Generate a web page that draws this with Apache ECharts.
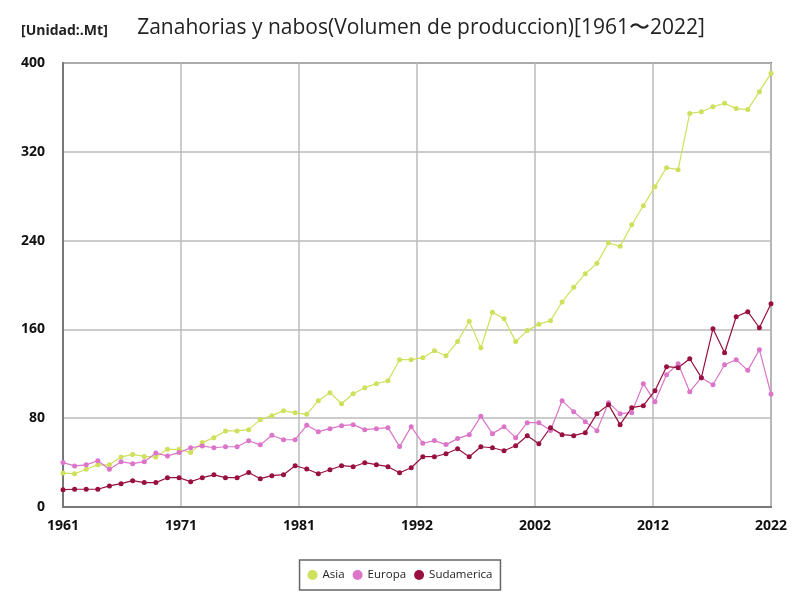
<!DOCTYPE html>
<html>
<head>
<meta charset="utf-8">
<script src="https://cdn.jsdelivr.net/npm/echarts@6/dist/echarts.min.js"></script>
<style>
  html, body { margin: 0; padding: 0; background: #fff; }
  #chart { width: 800px; height: 600px; }
</style>
</head>
<body>
<div id="chart"></div>
<script>
// 数据
const startYear = 1961;
const endYear = 2022;
const years = [];
for (let y = startYear; y <= endYear; y++) years.push(y);

const asia = [
  30.6, 30, 34, 38, 38, 45, 47.4, 45.6, 45, 52,
  52, 49, 58, 62.5, 68.5, 68.5, 69.7, 78.7, 82.3, 86.8,
  84.8, 83.5, 95.8, 103, 93, 102, 107.5, 111, 113.8, 132.7,
  132.7, 134.5, 140.8, 136.3, 149, 167.3, 143.5, 175.4, 169.7, 149,
  158.9, 164.6, 167.9, 184.7, 197.9, 210.2, 219.5, 238.1, 234.8, 254.3,
  271.4, 288.6, 305.7, 303.9, 354.6, 356.1, 360.6, 363.7, 358.9, 358,
  374.2, 390.7
];
const europa = [
  40, 37, 38, 41.7, 34, 40.8, 39, 40.8, 48.6, 46,
  49, 53.4, 55, 53.4, 54.3, 54.3, 59.7, 56, 64.6, 60.6,
  60.6, 73.6, 67.9, 70.6, 73.3, 74.2, 69.7, 70.6, 71.5, 54.4,
  72.4, 57.4, 59.8, 56.2, 61.6, 65.2, 81.7, 66.1, 72.4, 62.5,
  76, 76, 69, 95.8, 85.9, 76.9, 68.8, 94, 84.1, 85,
  111.1, 94.9, 119.2, 129.1, 103.9, 116.5, 110.2, 128.2, 132.7, 123.1,
  141.7, 101.8
];
const sudamerica = [
  15.6, 16, 16, 16, 19, 21, 23.7, 22, 22, 26.4,
  26.4, 22.8, 26.4, 29, 26.4, 26.4, 31, 25.5, 28.2, 29.1,
  37.2, 34.2, 30, 33.6, 37.2, 36.3, 39.9, 38.1, 36.3, 30.9,
  35.4, 45.3, 45.3, 48, 52.5, 45.3, 54.3, 53.4, 50.7, 55.2,
  64.2, 57, 71.5, 65.2, 64.3, 67, 84.1, 92.2, 74.2, 89.5,
  91.3, 104.8, 126.4, 125.5, 133.6, 116.5, 160.6, 139, 171.4, 176,
  161.5, 183.2
];
const seriesNames = ['Asia', 'Europa', 'Sudamerica'];
const colors = ['#cfe05c', '#dc74c9', '#981040'];

(function () {
  let myChart = echarts.init(document.getElementById('chart'));

  // x 轴用年份偏移量，刻度均分为 6 段
  const toPairs = arr => arr.map((v, i) => [years[i] - startYear, v]);
  const span = endYear - startYear;

  let option = {
    animation: false,
    color: colors,
    title: [
      {
        text: 'Zanahorias y nabos(Volumen de produccion)[1961〜2022]',
        left: 416,
        top: 13,
        textAlign: 'center',
        textStyle: { fontSize: 21, fontWeight: 'normal', color: '#222', fontFamily: 'Open Sans' }
      },
      {
        text: '[Unidad:.Mt]',
        left: 16,
        top: 19,
        textStyle: { fontSize: 14, fontWeight: 'bold', color: '#222', fontFamily: 'Open Sans' }
      }
    ],
    legend: {
      bottom: 10,
      left: 'center',
      data: seriesNames,
      icon: 'circle',
      itemWidth: 10,
      itemHeight: 10,
      itemGap: 8,
      borderColor: '#666',
      borderWidth: 1.5,
      padding: [9, 8],
      textStyle: { fontSize: 11.5, color: '#222', fontFamily: 'Open Sans' }
    },
    grid: {
      left: 63,
      right: 29,
      top: 63,
      bottom: 93,
      show: true,
      borderColor: '#777',
      borderWidth: 2
    },
    xAxis: {
      type: 'value',
      min: 0,
      max: span,
      interval: span / 6,
      axisLine: { show: true, lineStyle: { color: '#777', width: 2 } },
      axisTick: { show: false },
      splitLine: { show: true, lineStyle: { color: '#bbb', width: 1.5 } },
      axisLabel: {
        margin: 12,
        fontSize: 14,
        fontWeight: 'bold',
        color: '#111',
        fontFamily: 'Open Sans',
        formatter: v => String(startYear + Math.round(v))
      }
    },
    yAxis: {
      type: 'value',
      min: 0,
      max: 400,
      interval: 80,
      axisLine: { show: true, lineStyle: { color: '#777', width: 2 } },
      axisTick: { show: false },
      splitLine: { show: true, lineStyle: { color: '#bbb', width: 1.5 } },
      axisLabel: {
        margin: 18,
        fontSize: 14,
        fontWeight: 'bold',
        color: '#111',
        fontFamily: 'Open Sans'
      }
    },
    series: [
      { name: seriesNames[0], type: 'line', data: toPairs(asia) },
      { name: seriesNames[1], type: 'line', data: toPairs(europa) },
      { name: seriesNames[2], type: 'line', data: toPairs(sudamerica) }
    ].map(s => Object.assign(s, {
      symbol: 'circle',
      symbolSize: 5,
      lineStyle: { width: 1.2 }
    }))
  };

  myChart.setOption(option);
  window.addEventListener('resize', function () {
    myChart.resize();
  });
})();
</script>
</body>
</html>
